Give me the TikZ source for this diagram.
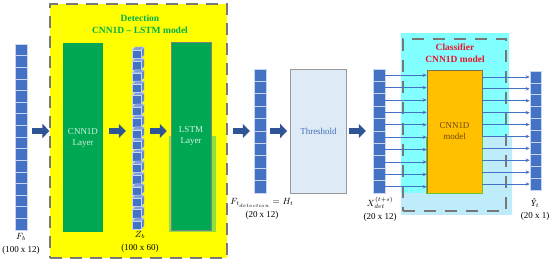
\documentclass[tikz,border=0pt]{standalone}
\usepackage{fontspec}
\setmainfont{Liberation Serif}
\usepackage{tikz}
\usetikzlibrary{arrows.meta}
\definecolor{cellblue}{RGB}{68,114,196}
\definecolor{celledge}{RGB}{200,214,238}
\definecolor{cubetop}{RGB}{125,155,222}
\definecolor{cubeside}{RGB}{92,128,208}
\definecolor{arrowblue}{RGB}{47,85,151}
\definecolor{detyellow}{RGB}{255,255,0}
\definecolor{layergreen}{RGB}{0,168,84}
\definecolor{layertext}{RGB}{215,240,225}
\definecolor{shadowgreen}{RGB}{140,225,60}
\definecolor{titlegreen}{RGB}{0,176,80}
\definecolor{titlered}{RGB}{235,20,40}
\definecolor{clscyan}{RGB}{130,255,255}
\definecolor{clspale}{RGB}{190,236,250}
\definecolor{modelorange}{RGB}{255,192,0}
\definecolor{modeledge}{RGB}{130,110,80}
\definecolor{modelgreen}{RGB}{100,200,40}
\definecolor{modeltext}{RGB}{110,70,20}
\definecolor{thrfill}{RGB}{222,235,247}
\definecolor{thrtext}{RGB}{68,110,185}
\definecolor{dashgray}{RGB}{120,120,120}

\begin{document}
\begin{tikzpicture}[x=1pt,y=-1pt,
  cell/.style={draw=celledge, fill=cellblue, line width=0.6pt, inner sep=0pt, minimum width=12pt},
  column/.style={inner sep=0pt, minimum width=12pt},
  fatarrow/.style={draw=arrowblue, line width=6pt, -{Triangle[length=7pt,width=14pt]}},
  thinarrow/.style={draw=cellblue, line width=0.7pt, -{Stealth[length=4pt,width=3.5pt]}},
  lbl/.style={align=center, font=\fontsize{9}{13}\selectfont, inner sep=0pt},
  boxtitle/.style={align=center, font=\fontsize{9.5}{12}\selectfont\bfseries, inner sep=0pt}]
\useasboundingbox (0,0) rectangle (550,262);

  %% Input sequence
  \node[column, minimum height=186pt] (fb) at (21,137) {};
  \foreach \i in {1,...,16}
    \node[cell, minimum height=11.625pt] (fb\i) at (21,{44+11.625*(\i-0.5)}) {};
  \node[lbl] (fblbl) at (21,244) {$F_b$\\(100 x 12)};

  %% Detection model
  \node[fill=detyellow, draw=dashgray, line width=1.2pt, dash pattern=on 12pt off 8pt,
        minimum width=177pt, minimum height=254pt, inner sep=0pt] (det) at (138.5,131) {};
  \node[boxtitle, text=titlegreen] (dettitle) at (140,24.5) {Detection\\CNN1D -- LSTM model};
  \node[fill=layergreen, minimum width=40pt, minimum height=189pt, align=center,
        text=layertext, font=\fontsize{9}{11}\selectfont] (cnn) at (83,137.5) {CNN1D\\Layer};

  %% Latent cubes
  \node[column, minimum height=183pt] (zb) at (138,138.5) {};
  \foreach \i in {0,...,15} {
    \pgfmathsetmacro{\yt}{47+11.4*\i}
    \filldraw[fill=cubetop, draw=celledge, line width=0.4pt]
      (132,\yt+3) -- (135,\yt) -- (144,\yt) -- (141,\yt+3) -- cycle;
    \filldraw[fill=cubeside, draw=celledge, line width=0.4pt]
      (141,\yt+3) -- (144,\yt) -- (144,\yt+8.4) -- (141,\yt+11.4) -- cycle;
    \filldraw[fill=cellblue, draw=celledge, line width=0.4pt]
      (132,\yt+3) rectangle (141,\yt+11.4);
  }
  \node[lbl] (zblbl) at (140,242) {$Z_b$\\(100 x 60)};

  \fill[shadowgreen] (169,136) rectangle (216,232);
  \node[fill=layergreen, draw=gray, line width=0.5pt, minimum width=40pt, minimum height=188pt,
        align=center, text=layertext, font=\fontsize{9}{11}\selectfont] (lstm) at (191,136) {LSTM\\Layer};

  %% Detection output
  \node[column, minimum height=124pt] (fdet) at (260,131) {};
  \foreach \i in {1,...,10}
    \node[cell, minimum height=12.4pt] (fdet\i) at (260,{69+12.4*(\i-0.5)}) {};
  \node[lbl] (fdetlbl) at (262,209) {$F_{t_{detection}} = H_t$\\(20 x 12)};

  %% Threshold
  \node[fill=thrfill, draw=gray!80, line width=0.8pt, minimum width=56pt, minimum height=124pt,
        text=thrtext, font=\fontsize{9}{11}\selectfont] (thr) at (318.5,131) {Threshold};

  %% Classifier input
  \node[column, minimum height=124pt] (xc) at (379,131) {};
  \foreach \i in {1,...,10}
    \node[cell, minimum height=12.4pt] (x\i) at (379,{69+12.4*(\i-0.5)}) {};
  \node[lbl] (xlbl) at (380,209) {$X_{det}^{(t+s)}$\\(20 x 12)};

  %% Classifier model
  \fill[clscyan] (401,33) rectangle (509,215);
  \fill[clspale] (425,137) -- (512,137) -- (512,215) -- (401,215) -- (401,193) -- (425,193) -- cycle;
  \node[draw=dashgray, line width=1.2pt, dash pattern=on 12pt off 9pt,
        minimum width=103pt, minimum height=172pt, inner sep=0pt] (cls) at (454.5,125) {};
  \node[boxtitle, text=titlered] (clstitle) at (455,53) {Classifier\\CNN1D model};
  \node[fill=modelorange, draw=modeledge, line width=0.6pt, minimum width=55pt, minimum height=123pt,
        align=center, text=modeltext, font=\fontsize{9}{11}\selectfont] (model) at (454.5,131.5) {CNN1D\\model};
  \draw[modelgreen, line width=1pt] (model.west |- 0,137) -- (model.south west)
    -- (model.south east) -- (model.east |- 0,137);

  %% Classifier output
  \node[column, minimum height=119pt, minimum width=11pt] (yc) at (535.5,130.5) {};
  \foreach \i in {1,...,10}
    \node[cell, minimum width=11pt, minimum height=11.9pt] (y\i) at (535.5,{71+11.9*(\i-0.5)}) {};
  \node[lbl] (ylbl) at (535,203) {\itshape Ŷ$_t$};
  \node[lbl] (ysize) at (535,216.5) {(20 x 1)};

  %% Thin arrows through the classifier
  \foreach \i in {1,...,10} {
    \draw[thinarrow] (x\i.east) -- (x\i.east -| model.west);
    \draw[thinarrow] (y\i.west -| model.east) -- (y\i.west);
  }

  %% Block arrows
  \coordinate (ay) at (0,131);
  \draw[fatarrow, shorten <=5pt] (fb.east |- ay) -- (det.west |- ay);
  \draw[fatarrow, shorten <=6pt, shorten >=6pt] (cnn.east |- ay) -- (zb.west |- ay);
  \draw[fatarrow, shorten <=6pt, shorten >=4pt] (zb.east |- ay) -- (lstm.west |- ay);
  \draw[fatarrow, shorten <=5pt, shorten >=4pt] (det.east |- ay) -- (fdet.west |- ay);
  \draw[fatarrow, shorten <=4pt, shorten >=3pt] (fdet.east |- ay) -- (thr.west |- ay);
  \draw[fatarrow, shorten <=2pt, shorten >=7pt] (thr.east |- ay) -- (xc.west |- ay);
\end{tikzpicture}
\end{document}
